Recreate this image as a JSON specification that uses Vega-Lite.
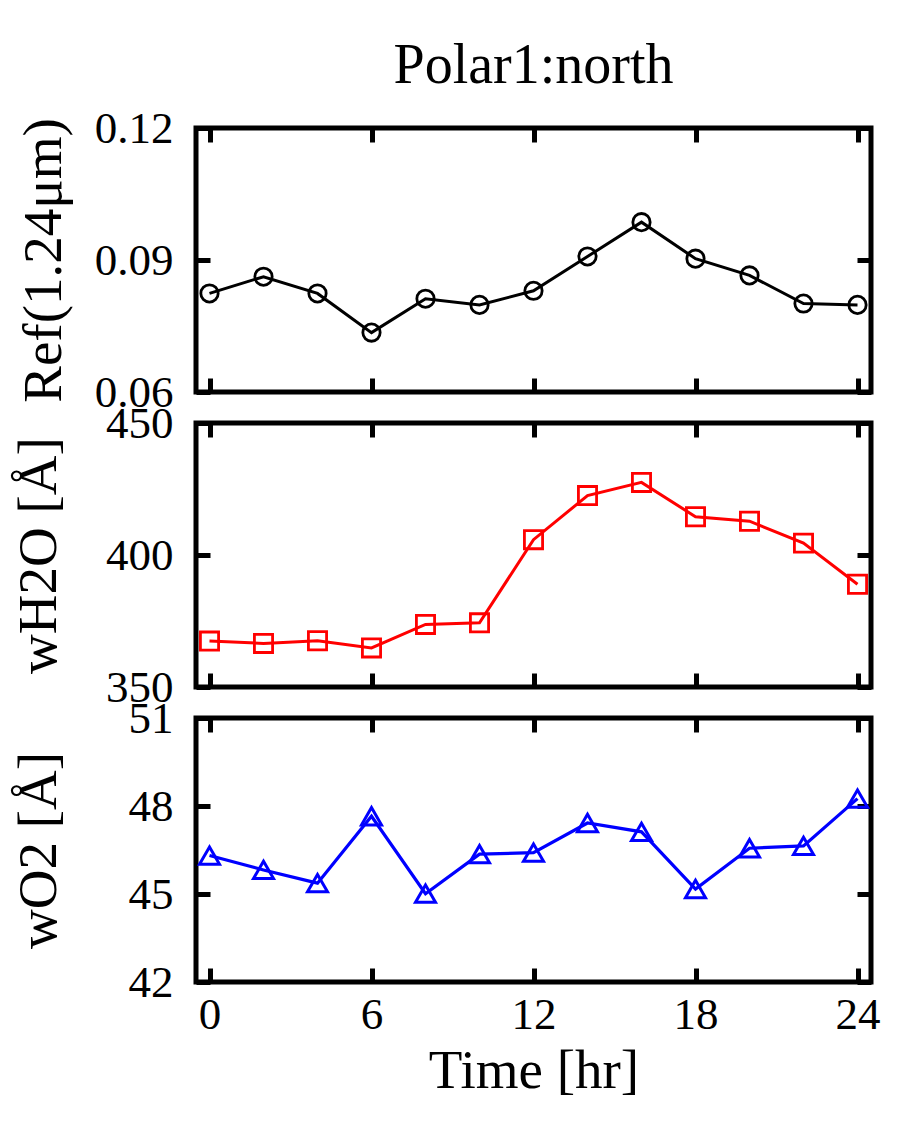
{
  "$schema": "https://vega.github.io/schema/vega-lite/v6.json",
  "background": "white",
  "padding": {"left": 8, "top": 35, "right": 5, "bottom": 5},
  "data": {
    "values": [
      {"time": 0, "ref": 0.0824, "wh2o": 367.4, "wo2": 46.31},
      {"time": 2, "ref": 0.0862, "wh2o": 366.5, "wo2": 45.82},
      {"time": 4, "ref": 0.0824, "wh2o": 367.5, "wo2": 45.37},
      {"time": 6, "ref": 0.0735, "wh2o": 364.8, "wo2": 47.65},
      {"time": 8, "ref": 0.0812, "wh2o": 373.7, "wo2": 45.01},
      {"time": 10, "ref": 0.0798, "wh2o": 374.3, "wo2": 46.36},
      {"time": 12, "ref": 0.0830, "wh2o": 405.8, "wo2": 46.41},
      {"time": 14, "ref": 0.0908, "wh2o": 422.5, "wo2": 47.42},
      {"time": 16, "ref": 0.0986, "wh2o": 427.5, "wo2": 47.12},
      {"time": 18, "ref": 0.0903, "wh2o": 414.5, "wo2": 45.17},
      {"time": 20, "ref": 0.0865, "wh2o": 412.8, "wo2": 46.56},
      {"time": 22, "ref": 0.0801, "wh2o": 404.5, "wo2": 46.64},
      {"time": 24, "ref": 0.0798, "wh2o": 388.9, "wo2": 48.25}
    ]
  },
  "bounds": "flush",
  "spacing": 31,
  "vconcat": [
    {
      "width": 675,
      "height": 264,
      "title": {"text": "Polar1:north", "fontSize": 56, "font": "Liberation Serif", "fontWeight": "normal", "color": "black", "offset": 11},
      "layer": [
        {
          "mark": {"type": "line", "color": "black", "strokeWidth": 3},
          "encoding": {
            "x": {"field": "time", "type": "quantitative", "scale": {"domain": [-0.5, 24.5], "nice": false, "zero": false}, "axis": {"orient": "bottom", "values": [0, 6, 12, 18, 24], "labels": false, "title": null}},
            "y": {"field": "ref", "type": "quantitative", "scale": {"domain": [0.06, 0.12], "nice": false, "zero": false}, "axis": {"orient": "left", "values": [0.06, 0.09, 0.12], "format": ".2f", "title": "Ref(1.24μm)", "titlePadding": 22}}
          }
        },
        {
          "mark": {"type": "point", "shape": "circle", "filled": false, "color": "black", "strokeWidth": 2.8, "size": 300, "opacity": 1},
          "encoding": {
            "x": {"field": "time", "type": "quantitative", "axis": {"orient": "top", "values": [0, 6, 12, 18, 24], "labels": false, "title": null}},
            "y": {"field": "ref", "type": "quantitative", "axis": {"orient": "right", "values": [0.06, 0.09, 0.12], "labels": false, "title": null}}
          }
        }
      ],
      "resolve": {"axis": {"x": "independent", "y": "independent"}}
    },
    {
      "width": 675,
      "height": 264,
      "layer": [
        {
          "mark": {"type": "line", "color": "#ff0000", "strokeWidth": 3},
          "encoding": {
            "x": {"field": "time", "type": "quantitative", "scale": {"domain": [-0.5, 24.5], "nice": false, "zero": false}, "axis": {"orient": "bottom", "values": [0, 6, 12, 18, 24], "labels": false, "title": null}},
            "y": {"field": "wh2o", "type": "quantitative", "scale": {"domain": [350, 450], "nice": false, "zero": false}, "axis": {"orient": "left", "values": [350, 400, 450], "title": "wH2O [Å]", "titlePadding": 38}}
          }
        },
        {
          "mark": {"type": "point", "shape": "square", "filled": false, "color": "#ff0000", "strokeWidth": 2.8, "size": 330, "opacity": 1},
          "encoding": {
            "x": {"field": "time", "type": "quantitative", "axis": {"orient": "top", "values": [0, 6, 12, 18, 24], "labels": false, "title": null}},
            "y": {"field": "wh2o", "type": "quantitative", "axis": {"orient": "right", "values": [350, 400, 450], "labels": false, "title": null}}
          }
        }
      ],
      "resolve": {"axis": {"x": "independent", "y": "independent"}}
    },
    {
      "width": 675,
      "height": 264,
      "layer": [
        {
          "mark": {"type": "line", "color": "#0000ff", "strokeWidth": 3.2},
          "encoding": {
            "x": {"field": "time", "type": "quantitative", "scale": {"domain": [-0.5, 24.5], "nice": false, "zero": false}, "axis": {"orient": "bottom", "values": [0, 6, 12, 18, 24], "title": "Time [hr]", "titlePadding": 7, "labelPadding": 24}},
            "y": {"field": "wo2", "type": "quantitative", "scale": {"domain": [42, 51], "nice": false, "zero": false}, "axis": {"orient": "left", "values": [42, 45, 48, 51], "title": "wO2 [Å]", "titlePadding": 61}}
          }
        },
        {
          "mark": {"type": "point", "shape": "triangle-up", "filled": false, "color": "#0000ff", "strokeWidth": 3, "size": 400, "opacity": 1},
          "encoding": {
            "x": {"field": "time", "type": "quantitative", "axis": {"orient": "top", "values": [0, 6, 12, 18, 24], "labels": false, "title": null}},
            "y": {"field": "wo2", "type": "quantitative", "axis": {"orient": "right", "values": [42, 45, 48, 51], "labels": false, "title": null}}
          }
        }
      ],
      "resolve": {"axis": {"x": "independent", "y": "independent"}}
    }
  ],
  "config": {
    "font": "Liberation Serif",
    "view": {"stroke": "black", "strokeWidth": 5},
    "axis": {
      "grid": false,
      "domain": false,
      "minExtent": 0,
      "tickColor": "black",
      "tickWidth": 5,
      "tickSize": -14,
      "labelFont": "Liberation Serif",
      "labelFontSize": 45,
      "labelColor": "black",
      "labelPadding": 37,
      "labelFlush": false,
      "labelOverlap": false,
      "titleFont": "Liberation Serif",
      "titleFontSize": 55,
      "titleFontWeight": "normal",
      "titleColor": "black"
    }
  }
}
